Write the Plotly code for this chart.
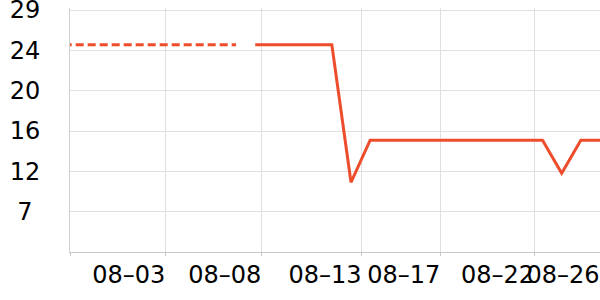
import plotly.graph_objects as go

# Day index (numeric position along the time axis)
dash_days = [-1, 0, 1, 2, 3, 4, 5, 6, 7, 8]
dash_vals = [25.2] * 10

solid_days = [9, 10, 11, 12, 13, 14, 15, 16, 17, 18, 19, 20, 21, 22, 23, 24, 25, 26, 27]
solid_vals = [25.2, 25.2, 25.2, 25.2, 25.2, 10.2, 14.8, 14.8, 14.8, 14.8, 14.8,
              14.8, 14.8, 14.8, 14.8, 14.8, 11.2, 14.8, 14.8]

x_tick_pos = [-0.67, 4.33, 9.34, 14.57, 18.69, 23.58, 27.0]
x_tick_text = ["", "08–03", "08–08", "08–13", "08–17", "08–22", "08–26"]

y_tick_pos = [29, 24.6, 20.2, 15.8, 11.4, 7.0]
y_tick_text = ["29", "24", "20", "16", "12", "7\u00a0"]

color = "#EE4D2D"

fig = go.Figure()
fig.add_trace(go.Scatter(x=dash_days, y=dash_vals, mode="lines",
                         line=dict(color=color, width=3, dash="8px,4px"),
                         showlegend=False, hoverinfo="skip"))
fig.add_trace(go.Scatter(x=solid_days, y=solid_vals, mode="lines",
                         line=dict(color=color, width=3),
                         showlegend=False, hoverinfo="skip"))

fig.update_layout(
    width=600, height=300,
    margin=dict(l=70, r=0, t=8, b=48),
    paper_bgcolor="white", plot_bgcolor="white",
    font=dict(family="DejaVu Sans", size=24, color="black"),
    xaxis=dict(range=[-0.6701, 27.0001], tickmode="array",
               tickvals=x_tick_pos, ticktext=x_tick_text,
               showgrid=True, gridcolor="#e0e0e0", gridwidth=1,
               showline=True, linecolor="#c8c8c8", linewidth=1,
               ticks="outside", ticklen=3, tickcolor="#c8c8c8",
               ticklabelshift=-37, ticklabelstandoff=-2,
               ticklabeloverflow="allow", automargin=False,
               zeroline=False, tickangle=0),
    yaxis=dict(range=[2.6, 29.218], tickmode="array",
               tickvals=y_tick_pos, ticktext=y_tick_text,
               showgrid=True, gridcolor="#e0e0e0", gridwidth=1,
               showline=True, linecolor="#d0d0d0", linewidth=1,
               ticks="", ticklabelstandoff=24, ticklabeloverflow="allow",
               automargin=False, zeroline=False),
)

fig.write_html("out.html")
